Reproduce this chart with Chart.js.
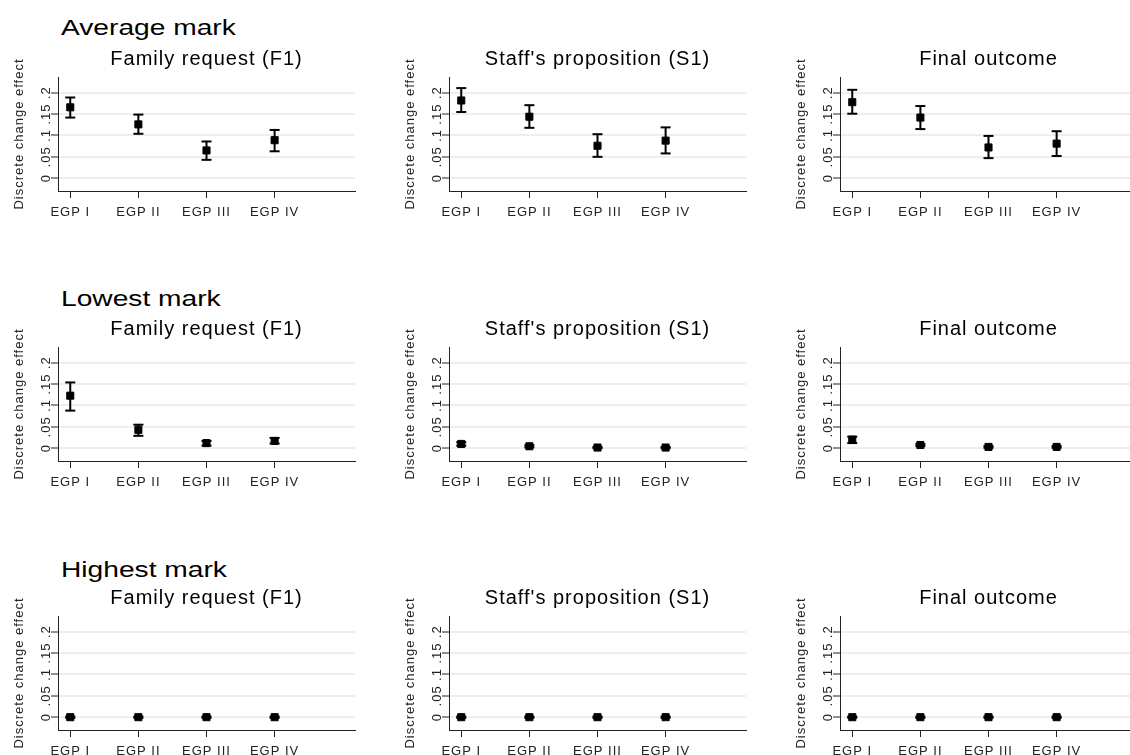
<!DOCTYPE html>
<html lang="en">
<head>
  <meta charset="UTF-8" />
  <title>Discrete change effects by EGP class</title>
  <script src="https://cdn.jsdelivr.net/npm/chart.js"></script>
  <style>
    body { margin: 0; background: #fff; width: 1130px; height: 755px; overflow: hidden; position: relative;
           font-family: "Liberation Sans", Arial, sans-serif; }
    .row-title { position: absolute; left: 61px; font-size: 22px; line-height: 22px; color: #000;
                 transform: scaleX(1.28); transform-origin: left top; white-space: nowrap; }
    canvas.panel { position: absolute; }
  </style>
</head>
<body>
  <div id="panels"></div>

  <script>
    const categories = ["EGP I", "EGP II", "EGP III", "EGP IV"];
    const yTicks = [0, 0.05, 0.1, 0.15, 0.2];
    const rowTitles = ["Average mark", "Lowest mark", "Highest mark"];
    const panelTitles = ["Family request (F1)", "Staff's proposition (S1)", "Final outcome"];

    // Average mark: estimate, lower and upper bound
    const avgF1   = [0.166, 0.126, 0.065, 0.089];
    const avgF1Lo = [0.142, 0.104, 0.043, 0.063];
    const avgF1Hi = [0.189, 0.149, 0.086, 0.113];
    const avgS1   = [0.182, 0.144, 0.076, 0.088];
    const avgS1Lo = [0.155, 0.118, 0.050, 0.058];
    const avgS1Hi = [0.211, 0.171, 0.103, 0.119];
    const avgFin   = [0.178, 0.142, 0.072, 0.081];
    const avgFinLo = [0.151, 0.115, 0.047, 0.052];
    const avgFinHi = [0.207, 0.169, 0.099, 0.110];

    // Lowest mark
    const lowF1   = [0.123, 0.043, 0.012, 0.017];
    const lowF1Lo = [0.088, 0.029, 0.006, 0.011];
    const lowF1Hi = [0.154, 0.055, 0.017, 0.024];
    const lowS1   = [0.010, 0.0045, 0.0015, 0.0015];
    const lowS1Lo = [0.006, 0.002, 0.000, 0.000];
    const lowS1Hi = [0.014, 0.007, 0.003, 0.003];
    const lowFin   = [0.020, 0.0075, 0.003, 0.003];
    const lowFinLo = [0.012, 0.005, 0.001, 0.001];
    const lowFinHi = [0.027, 0.010, 0.005, 0.005];

    // Highest mark
    const highF1   = [0.000, 0.000, 0.000, 0.000];
    const highF1Lo = [-0.0015, -0.0015, -0.0015, -0.0015];
    const highF1Hi = [0.0015, 0.0015, 0.0015, 0.0015];
    const highS1   = [0.000, 0.000, 0.000, 0.000];
    const highS1Lo = [-0.0015, -0.0015, -0.0015, -0.0015];
    const highS1Hi = [0.0015, 0.0015, 0.0015, 0.0015];
    const highFin   = [0.000, 0.000, 0.000, 0.000];
    const highFinLo = [-0.0015, -0.0015, -0.0015, -0.0015];
    const highFinHi = [0.0015, 0.0015, 0.0015, 0.0015];

    const panels = [
      [[avgF1, avgF1Lo, avgF1Hi], [avgS1, avgS1Lo, avgS1Hi], [avgFin, avgFinLo, avgFinHi]],
      [[lowF1, lowF1Lo, lowF1Hi], [lowS1, lowS1Lo, lowS1Hi], [lowFin, lowFinLo, lowFinHi]],
      [[highF1, highF1Lo, highF1Hi], [highS1, highS1Lo, highS1Hi], [highFin, highFinLo, highFinHi]]
    ];

    Chart.defaults.font.family = '"Liberation Sans", Arial, sans-serif';

    // the reference text is drawn a bit wide
    const spacing = {
      id: "spacing",
      beforeUpdate(c) { c.ctx.letterSpacing = "1px"; },
      beforeDraw(c) { c.ctx.letterSpacing = "1px"; }
    };

    const axisLeft = [58, 449, 840];
    const plotTop = [77, 347, 616];
    const rowTitleTop = [17, 288, 559];
    const plotW = 299, plotH = 114;
    const padL = 57, padT = 45, padB = 30;

    function fmtY(v) {
      return v === 0 ? "0" : String(v).replace(/^0\./, ".");
    }

    function makePanel(canvas, title, est, lo, hi) {
      const points = est.map((v, i) => ({ x: i, y: v }));
      const bars = [];
      lo.forEach((v, i) => {
        bars.push({ x: i, y: v }, { x: i, y: hi[i] }, { x: i, y: null });
      });

      new Chart(canvas, {
        type: "scatter",
        data: {
          datasets: [
            { data: points, pointStyle: "rect", pointRadius: 5, backgroundColor: "#000",
              borderColor: "#000", borderWidth: 1 },
            { data: bars, showLine: true, spanGaps: false, borderColor: "#000", borderWidth: 2,
              pointStyle: "line", pointRadius: 5, pointBorderWidth: 2, pointBorderColor: "#000",
              pointBackgroundColor: "#000" }
          ]
        },
        options: {
          responsive: false,
          animation: false,
          events: [],
          layout: { padding: { left: 0, right: 5, top: 0, bottom: 0 } },
          plugins: {
            legend: { display: false },
            tooltip: { enabled: false },
            title: {
              display: true, text: title, fullSize: false, color: "#000",
              font: { size: 20, weight: "normal" },
              padding: { top: 15, bottom: 6 }
            }
          },
          scales: {
            x: {
              type: "linear", min: -0.18, max: 4.18,
              afterBuildTicks: s => { s.ticks = categories.map((c, i) => ({ value: i })); },
              afterFit: s => { s.height = padB; },
              ticks: { callback: v => categories[v], color: "#222", font: { size: 13 },
                       padding: 7, maxRotation: 0, autoSkip: false },
              grid: { drawOnChartArea: false, drawTicks: true, tickLength: 7, tickColor: "#222", tickWidth: 1 },
              border: { color: "#222", width: 1 }
            },
            y: {
              min: -0.03, max: 0.237,
              afterBuildTicks: s => { s.ticks = yTicks.map(v => ({ value: v })); },
              afterFit: s => { s.width = padL; },
              ticks: { callback: fmtY, color: "#222", font: { size: 13 }, minRotation: 90, maxRotation: 90,
                       crossAlign: "center", padding: -6 },
              grid: { color: "#e8f0f2", lineWidth: 2, tickColor: "#222", tickWidth: 1, tickLength: 7 },
              border: { color: "#222", width: 1 },
              title: { display: true, text: "Discrete change effect", color: "#222",
                       font: { size: 13 }, padding: { top: 11, bottom: 0 } }
            }
          }
        },
        plugins: [spacing]
      });
    }

    const host = document.getElementById("panels");
    rowTitles.forEach((t, r) => {
      const d = document.createElement("div");
      d.className = "row-title";
      d.style.top = rowTitleTop[r] + "px";
      d.textContent = t;
      host.appendChild(d);

      panelTitles.forEach((pt, c) => {
        const cv = document.createElement("canvas");
        cv.className = "panel";
        cv.width = padL + plotW + 5;
        cv.height = padT + plotH + padB;
        cv.style.left = (axisLeft[c] - padL) + "px";
        cv.style.top = (plotTop[r] - padT) + "px";
        host.appendChild(cv);
        const [est, lo, hi] = panels[r][c];
        makePanel(cv, pt, est, lo, hi);
      });
    });
  </script>
</body>
</html>
